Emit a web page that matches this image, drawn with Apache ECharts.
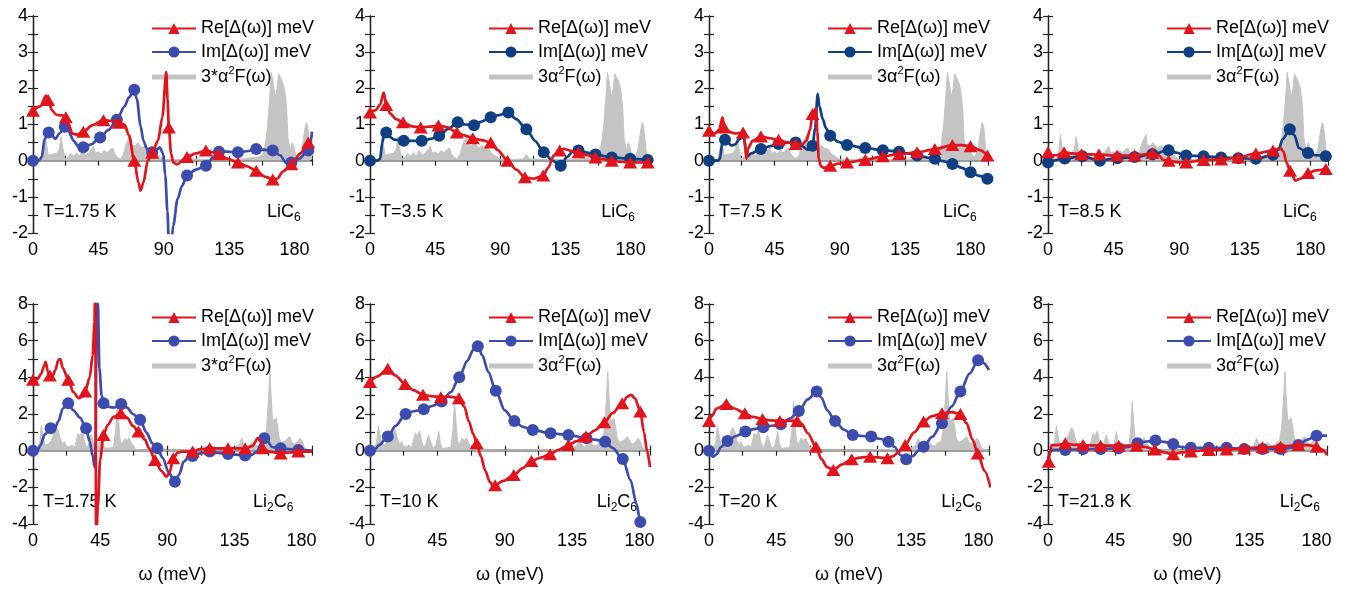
<!DOCTYPE html>
<html>
<head>
<meta charset="utf-8">
<script src="https://cdn.jsdelivr.net/npm/echarts@6/dist/echarts.min.js"></script>
<style>
  html, body { margin: 0; padding: 0; background: #fff; }
  #chart { width: 1353px; height: 589px; }
</style>
</head>
<body>
<div id="chart"></div>
<script>
// points are [omega, value, marker?]
const re1 = [[0,1.38,1],[5,1.5,0],[9,1.8,0],[10.4,1.68,1],[13,1.4,0],[16,1.27,0],[20,1.25,0],[22.6,1.2,1],[25,0.95,0],[27,0.75,0],[30,0.72,0],[34.6,0.8,1],[41,0.98,0],[48.5,1.12,1],[54,1.1,0],[58.9,1.05,1],[63,1.0,0],[66,0.7,0],[69.7,0,1],[72.5,-0.6,0],[74,-0.83,0],[76,-0.6,0],[79,0,0],[82,0.22,1],[86,0.55,0],[89,1.2,0],[91.7,2.45,0],[92.6,1.7,0],[93.5,0.92,1],[95,0.2,0],[96.5,-0.05,0],[99,-0.1,0],[106,0.1,1],[112,0.2,0],[119,0.28,1],[128,0.18,1],[134,0.05,0],[141,-0.05,1],[147,-0.15,0],[153.6,-0.28,1],[160,-0.45,0],[165,-0.52,1],[168,-0.5,0],[172,-0.3,0],[177.8,-0.1,1],[184,0.2,0],[189.4,0.5,1],[192,0.55,0]];
const im1 = [[0,0,1],[4,0,0],[6,0.1,0],[8,0.6,0],[10.8,0.78,1],[13,0.7,0],[15.5,0.6,0],[18,0.75,0],[21.9,0.94,1],[24,0.85,0],[28,0.55,0],[31,0.4,0],[34.6,0.37,1],[40,0.45,0],[46.2,0.64,1],[52,0.85,0],[57.7,1.13,1],[63,1.5,0],[66,1.75,0],[69.7,1.96,1],[71.5,1.7,0],[74,0.97,0],[76,0.55,0],[78.5,0.32,0],[82,0.23,1],[85,0.3,0],[87.2,0.37,0],[89.5,0.2,0],[91,-0.4,0],[92.5,-1.4,0],[93.5,-2.3,0],[95,-2.4,0],[96.5,-1.8,0],[99.5,-1.06,0],[102.5,-0.7,0],[106,-0.41,1],[112,-0.25,0],[119,-0.14,1],[124,0.1,0],[128,0.25,1],[134,0.25,0],[141,0.23,1],[147,0.26,0],[153.6,0.32,1],[159,0.3,0],[165,0.28,1],[170,0.15,0],[174,-0.05,0],[177.8,-0.05,1],[183,0.05,0],[189.4,0.28,1],[191,0.5,0],[192,0.8,0]];
const re2 = [[0,1.33,1],[4,1.4,0],[7,1.55,0],[9.5,1.88,0],[11.2,1.54,1],[14,1.3,0],[18,1.15,0],[22.8,1.06,1],[29,0.95,0],[35,0.92,1],[41,0.94,0],[47.3,0.97,1],[53,0.93,0],[60,0.78,1],[65,0.7,0],[71,0.62,1],[77,0.57,0],[83.4,0.5,1],[88,0.3,0],[95,0,1],[101,-0.25,0],[107,-0.46,1],[113,-0.5,0],[119.6,-0.41,1],[123,-0.2,0],[127,0.15,0],[131,0.28,1],[134,0.33,0],[138,0.28,0],[144,0.23,1],[150,0.15,0],[155.7,0.09,1],[161,0.04,0],[167,0,1],[173,-0.03,0],[179.7,-0.05,1],[186,-0.05,0],[191.8,-0.05,1]];
const im2 = [[0,0,1],[5,0,0],[7,0.05,0],[8.5,0.5,0],[10,0.78,0],[11.2,0.78,1],[14,0.65,0],[17,0.58,0],[23.3,0.55,1],[29,0.55,0],[35.7,0.55,1],[42,0.6,0],[47.8,0.69,1],[54,0.88,0],[60.6,1.06,1],[66,1.0,0],[71.8,0.98,1],[77,1.08,0],[83.4,1.2,1],[89,1.26,0],[95.6,1.33,1],[101,1.15,0],[108,0.87,1],[114,0.55,0],[120,0.23,1],[126,0.0,0],[131.7,-0.14,1],[136,0.1,0],[140,0.25,0],[144,0.28,1],[150,0.22,0],[155.7,0.17,1],[167,0.09,1],[179.7,0.05,1],[191.8,0.02,1]];
const re3 = [[0,0.83,1],[4,0.75,0],[7,0.85,0],[9.3,1.2,0],[10.5,0.92,1],[14,0.8,0],[18,0.75,0],[23.4,0.78,1],[24.5,0.6,0],[25.7,0.05,0],[27,0.35,0],[30,0.55,0],[35.7,0.67,1],[42,0.62,0],[47.9,0.58,1],[54,0.5,0],[59.6,0.46,1],[64,0.45,0],[67,0.55,0],[69.5,0.85,0],[71.3,1.29,1],[73.6,1.45,0],[74.6,0.8,0],[75.5,0.05,0],[77,-0.15,0],[79,-0.2,0],[83.4,-0.14,1],[89,-0.08,0],[95,-0.05,1],[107.5,0.02,1],[119.6,0.12,1],[130.8,0.18,1],[143.2,0.23,1],[155.4,0.32,1],[167.5,0.43,1],[174,0.43,0],[180,0.4,1],[186,0.3,0],[191.6,0.14,1]];
const im3 = [[0,0,1],[6,0,0],[7.5,0.05,0],[9,0.45,0],[11,0.58,1],[13,0.5,0],[15.5,0.42,0],[18,0.45,0],[21,0.6,0],[24,0.65,0],[25.2,0.3,0],[26,0.1,0],[29,0.2,0],[35.7,0.32,1],[42,0.4,0],[47.9,0.46,1],[54,0.5,0],[59.6,0.5,1],[64,0.4,0],[68,0.3,0],[71.3,0.41,1],[73,0.9,0],[74.8,1.85,0],[76,1.5,0],[78.3,1.15,0],[80.5,0.9,0],[83.4,0.69,1],[89,0.52,0],[95,0.43,1],[107.5,0.35,1],[119.6,0.29,1],[130.8,0.25,1],[137,0.2,0],[143.2,0.14,1],[155.4,0.05,1],[161,-0.01,0],[167.5,-0.09,1],[174,-0.2,0],[180,-0.32,1],[186,-0.42,0],[191.6,-0.5,1]];
const re4 = [[0,0.23,1],[2,0.15,0],[6,0.15,0],[11,0.23,1],[17,0.2,0],[23,0.18,1],[35,0.17,1],[47.3,0.14,1],[59.4,0.14,1],[65,0.17,0],[71.6,0.21,1],[76,0.15,0],[79,0.02,0],[82.7,0,1],[88,-0.04,0],[94.7,-0.05,1],[106.7,0.02,1],[118.7,0.03,1],[130.5,0.09,1],[142.5,0.2,1],[154.3,0.28,1],[159.4,0.35,0],[161.5,0.25,0],[163.5,-0.05,0],[166,-0.28,1],[169.7,-0.55,0],[173,-0.5,0],[178.3,-0.34,1],[184,-0.27,0],[190.5,-0.23,1],[192,-0.23,0]];
const im4 = [[0,-0.05,1],[11.5,0.06,1],[23.5,0.12,1],[35.6,0.0,1],[47.6,0.07,1],[59.4,0.1,1],[71.6,0.18,1],[82.7,0.29,1],[88,0.22,0],[94.7,0.14,1],[106.7,0.12,1],[118.7,0.09,1],[130.5,0.07,1],[142.5,0.05,1],[154.3,0.16,1],[158,0.3,0],[161,0.6,0],[165.8,0.87,1],[169,0.7,0],[172,0.35,0],[178.3,0.21,1],[184,0.15,0],[190.5,0.12,1]];
const re5 = [[0,3.87,1],[3,3.9,0],[5.5,4.2,0],[7.3,4.6,0],[8.5,4.85,0],[10,4.3,0],[11.3,4.1,1],[13,4.05,0],[15,4.4,0],[17,4.95,0],[18.3,5.0,0],[20,4.5,0],[23.6,3.87,1],[27,3.2,0],[30.7,2.86,0],[33,2.95,0],[35,3.23,1],[38,4.0,0],[40,5.2,0],[41.2,7.0,0],[41.8,9.5,0],[42.3,-5,0],[43.5,-3,0],[45,-0.5,0],[47.3,0.86,1],[50,1.4,0],[54,1.85,0],[58.9,2.04,1],[63,1.8,0],[67,1.35,0],[70.7,1.04,1],[75,0.6,0],[78,0.1,0],[81.8,-0.51,1],[86,-1.1,0],[89.6,-1.42,0],[91.5,-1.2,0],[94,-0.42,1],[97,-0.1,0],[100,-0.05,0],[107,-0.05,1],[112,0.08,0],[118.4,0.13,1],[130.7,0.13,1],[142.2,0.13,1],[147,0.25,0],[150.7,0.68,0],[152.5,0.5,0],[154,0.13,1],[158,-0.05,0],[166,-0.15,1],[172,-0.1,0],[177.8,-0.05,1],[187,-0.05,0]];
const im5 = [[0,0,1],[3,0,0],[5,0.3,0],[8,0.9,0],[11.8,1.22,1],[14,1.1,0],[17,1.6,0],[20,2.3,0],[23.6,2.59,1],[27,2.2,0],[31.5,1.8,0],[35.6,1.22,1],[38,0.5,0],[40,-0.3,0],[41.3,-0.88,0],[42,0.5,0],[42.6,9.5,0],[43.5,8,0],[44.5,4.5,0],[46,3.0,0],[47.3,2.59,1],[50,2.4,0],[54,2.35,0],[59.1,2.54,1],[63,2.35,0],[67,2.0,0],[71.8,1.68,1],[76,1.0,0],[80,0.4,0],[83.3,0.13,1],[87,-0.4,0],[91,-1.2,0],[95.1,-1.7,1],[98,-1.3,0],[101,-0.6,0],[105,-0.3,0],[107,-0.29,1],[112,-0.15,0],[118.4,-0.05,1],[124,-0.12,0],[130.7,-0.18,1],[136,-0.22,0],[142.2,-0.27,1],[146,-0.25,0],[150,-0.05,0],[153,0.4,0],[155,0.68,1],[157.5,0.5,0],[160,0.2,0],[166,0.13,1],[172,0.08,0],[177.8,0.04,1],[187,0,0]];
const re6 = [[0,3.74,1],[5,4.05,0],[11.9,4.47,1],[17,4.1,0],[23.5,3.63,1],[29,3.3,0],[35.4,3.05,1],[41,2.97,0],[47.3,2.92,1],[53,2.95,0],[59.4,2.86,1],[63,2.4,0],[66,1.6,0],[69,0.9,0],[71.3,0.4,1],[74,-0.3,0],[77,-1.1,0],[80,-1.7,0],[82.5,-1.97,0],[83.6,-1.88,1],[89,-1.65,0],[96,-1.33,1],[102,-0.95,0],[107.8,-0.57,1],[114,-0.38,0],[120.2,-0.2,1],[126,0.05,0],[132.5,0.31,1],[138,0.52,0],[144.2,0.77,1],[150,1.1,0],[156.5,1.55,1],[162,2.05,0],[168.4,2.59,1],[172,2.95,0],[174.4,3.05,0],[177,2.85,0],[180.5,2.14,1],[183,1.0,0],[185,0.0,0],[187,-0.9,0]];
const im6 = [[0,0,1],[3,0.05,0],[6,0.3,0],[11.9,0.77,1],[17,1.35,0],[23.8,2.0,1],[29,2.15,0],[35.9,2.26,1],[42,2.45,0],[47.8,2.68,1],[54,3.2,0],[59.6,4.0,1],[65,4.9,0],[69,5.5,0],[72,5.69,1],[75,5.2,0],[79,4.3,0],[84,3.27,1],[90,2.2,0],[96.4,1.62,1],[102,1.3,0],[108.7,1.13,1],[120.6,0.95,1],[132.5,0.86,1],[144.6,0.68,1],[150,0.6,0],[157,0.49,1],[162,0.15,0],[168.8,-0.46,1],[174,-1.6,0],[178,-2.9,0],[180.5,-3.89,1],[182,-4.6,0]];
const re7 = [[0,1.62,1],[2,1.9,0],[5,2.3,0],[11.6,2.54,1],[17,2.3,0],[23.9,2.04,1],[29,1.85,0],[35.7,1.73,1],[41,1.65,0],[47.3,1.62,1],[53,1.62,0],[58.9,1.62,1],[62,1.45,0],[66,0.95,0],[71.4,0.22,1],[75,-0.45,0],[79,-0.9,0],[83,-1.06,1],[89,-0.75,0],[95.3,-0.47,1],[101,-0.38,0],[107.6,-0.33,1],[113,-0.37,0],[119.2,-0.42,1],[123,-0.3,0],[127,-0.05,0],[131,0.31,1],[137,1.0,0],[143.3,1.59,1],[149,1.88,0],[155.6,2.04,1],[162,2.1,0],[167.9,2.0,1],[172,1.5,0],[176,0.6,0],[179.5,-0.15,1],[184,-1.1,0],[188,-2.0,0]];
const im7 = [[0,0,1],[2.7,-0.33,0],[5,-0.2,0],[8,0.2,0],[12.3,0.53,1],[18,0.8,0],[24.3,1.04,1],[30,1.18,0],[36.2,1.28,1],[42,1.36,0],[48,1.44,1],[54,1.75,0],[60,2.17,1],[66,2.8,0],[71.9,3.23,1],[75,2.9,0],[79,2.2,0],[84.2,1.62,1],[90,1.15,0],[96,0.86,1],[102,0.8,0],[108.3,0.77,1],[114,0.65,0],[119.9,0.49,1],[124,0.2,0],[128,-0.25,0],[131.7,-0.47,1],[136,-0.3,0],[140,0.0,0],[143.3,0.22,1],[149,0.75,0],[155.6,1.5,1],[162,2.4,0],[167.9,3.23,1],[174,4.2,0],[179.7,4.93,1],[183,4.8,0],[187,4.4,0]];
const re8 = [[0.5,-0.6,1],[1.5,0.0,0],[2.5,0.3,0],[6,0.3,0],[11.6,0.4,1],[17,0.32,0],[23.5,0.31,1],[35.3,0.27,1],[47.4,0.27,1],[59.3,0.27,1],[65,0.2,0],[71.6,0.07,1],[78,-0.1,0],[83.9,-0.2,1],[89,-0.1,0],[95.7,-0.05,1],[107.8,0.04,1],[119.7,0.07,1],[131.5,0.13,1],[143.8,0.18,1],[155.9,0.22,1],[167.8,0.31,1],[174,0.3,0],[180,0.22,1],[184,0.05,0],[187,-0.24,0]];
const im8 = [[0,-0.42,0],[1.5,-0.1,0],[2.5,0.05,0],[11.6,0.04,1],[23.5,0.09,1],[35.3,0.09,1],[47.4,0.13,1],[54,0.2,0],[60,0.4,1],[66,0.5,0],[72,0.55,1],[78,0.48,0],[83.9,0.36,1],[89,0.2,0],[95.7,0.16,1],[107.8,0.16,1],[119.7,0.16,1],[131.5,0.09,1],[143.8,0.09,1],[155.9,0.09,1],[162,0.15,0],[167.8,0.31,1],[174,0.6,0],[180,0.82,1],[187,0.82,0]];

// 3*alpha^2F(omega), LiC6 (top row) and Li2C6 (bottom row)
const a2fLiC6 = [[0,0],[6,0],[7.5,0.3],[8.5,0.72],[9.5,0.4],[10.5,0.15],[13,0.18],[16,0.2],[18,0.3],[19.3,0.66],[20.5,0.35],[22,0.05],[24,0.08],[26,0.2],[28,0.12],[30,0.22],[32,0.12],[34,0.28],[36,0.15],[38,0.2],[40,0.3],[41.7,0.4],[43,0.2],[45,0.25],[47,0.18],[49,0.28],[51,0.22],[53,0.3],[55,0.35],[56,0.2],[58,0.1],[60,0.05],[62,0.15],[64,0.45],[66,0.62],[67,0.72],[68,0.45],[70,0.4],[72,0.5],[73,0.45],[75,0.35],[77.5,0.42],[79,0.35],[82,0.32],[84,0.2],[87,0.12],[90,0.03],[100,0.03],[106,0.05],[108,0.17],[110,0.05],[120,0.03],[135,0.03],[145,0.05],[150,0.08],[155,0.1],[158,0.15],[160,0.5],[161.5,1.0],[163,1.8],[164,2.44],[165.5,2.1],[166.7,1.75],[168,2.0],[169,2.4],[170,2.44],[171.5,2.2],[173,2.0],[174.5,1.5],[175.5,0.6],[177,0.3],[178.5,0.5],[179.5,0.45],[181,0.15],[183,0.1],[185,0.3],[187,0.85],[188,1.05],[189,0.95],[190.5,0.3],[192,0.05]];
const a2fLi2C6 = [[0,0],[3,0],[4.5,0.5],[5.6,1.37],[6.8,0.8],[8,0.3],[10,0.35],[12,0.5],[14,0.9],[15.7,1.26],[17,1.1],[18.5,0.6],[20,0.35],[21,0.5],[22.5,0.25],[24,0.2],[26,0.3],[28,0.2],[30.2,0.95],[31.5,0.8],[33.1,1.08],[34.5,0.5],[36,0.15],[37.5,0.4],[39,0.86],[40.5,0.5],[42,0.1],[44,0.3],[45.9,1.04],[47,0.4],[48.5,0.1],[50,0.15],[52,0.15],[54,0.2],[55.5,1.2],[56.4,2.68],[57.5,1.5],[58.5,0.5],[60,0.4],[61.5,0.68],[63,0.55],[64.5,0.7],[66,0.4],[67.5,0.2],[69,0.05],[72,0.03],[90,0.02],[100,0.04],[110,0.05],[115,0.08],[120,0.05],[130,0.08],[135,0.15],[138,0.3],[139.8,0.68],[141,0.4],[143,0.2],[145,0.3],[147,0.45],[149,0.3],[151,0.25],[153,0.45],[155,0.5],[156.6,1.22],[158,3.0],[158.8,4.32],[159.6,3.0],[160.6,1.6],[161.8,1.5],[162.9,1.77],[164,1.3],[165,0.7],[166.5,0.45],[168,0.5],[170,0.6],[172,0.77],[173.5,0.5],[175,0.35],[177,0.45],[179,0.68],[180.5,0.5],[182,0.15],[184,0.05],[187,0]];

const temps = ['T=1.75 K', 'T=3.5 K', 'T=7.5 K', 'T=8.5 K', 'T=1.75 K', 'T=10 K', 'T=20 K', 'T=21.8 K'];
const compounds = ['{a|LiC}{b|6}', '{a|Li}{b|2}{a|C}{b|6}'];
const grayNames = ['3*α{sup|2}F(ω)', '3α{sup|2}F(ω)', '3α{sup|2}F(ω)', '3α{sup|2}F(ω)',
                   '3*α{sup|2}F(ω)', '3α{sup|2}F(ω)', '3α{sup|2}F(ω)', '3α{sup|2}F(ω)'];
const xMaxRow = [192, 187];
const yRangeRow = [[-2, 4, 0.5, 1], [-4, 8, 1, 2]];

const RED = '#e3131b';
const BLUE = '#3b4cae';
const NAVY = '#0d3f82';
const GRAY = '#c4c4c4';
const imColors = [BLUE, NAVY, NAVY, NAVY, BLUE, BLUE, BLUE, BLUE];
const FONT = '"Liberation Sans", Arial, sans-serif';

// layout
const lefts = [33, 370, 709, 1048];
const widths = [[279, 278, 279, 280], [279, 280, 280, 279]];
const rowTop = [16, 304];
const rowHeight = [217, 220];
const labelRight = [300.7, 635, 976.7, 1316.7, 293.3, 637, 981.7, 1320];
const labelY = [212, 502];

const panels = [
  [re1, im1], [re2, im2], [re3, im3], [re4, im4],
  [re5, im5], [re6, im6], [re7, im7], [re8, im8]
];

const pts = (arr, sym) => arr.map(p => ({ value: [p[0], p[1]], symbol: p[2] ? sym : 'none' }));

const grid = [], xAxis = [], yAxis = [], series = [], legend = [], graphic = [];
const axisLine = { show: true, lineStyle: { color: '#222', width: 1.3 } };
const axisTick = { show: true, inside: true, length: 5, lineStyle: { color: '#222', width: 1.2 } };

panels.forEach((pd, i) => {
  const row = i < 4 ? 0 : 1;
  const col = i % 4;
  const left = lefts[col];
  const width = widths[row][col];
  const yr = yRangeRow[row];
  grid.push({ left: left, top: rowTop[row], width: width, height: rowHeight[row] });

  const xBase = { gridIndex: i, type: 'value', min: 0, max: xMaxRow[row], interval: 22.5,
    axisLine: axisLine, axisTick: axisTick, splitLine: { show: false } };
  xAxis.push(Object.assign({}, xBase, { position: 'bottom',
    axisLabel: { color: '#000', fontSize: 18, fontFamily: FONT, margin: 8,
      formatter: v => (v % 45 === 0 ? String(v) : '') } }));
  xAxis.push(Object.assign({}, xBase, { position: 'top', axisLabel: { show: false } }));

  const yBase = { gridIndex: i, type: 'value', min: yr[0], max: yr[1], interval: yr[2],
    axisLine: axisLine, axisTick: axisTick, splitLine: { show: false } };
  yAxis.push(Object.assign({}, yBase, { position: 'left',
    axisLabel: { color: '#000', fontSize: 18, fontFamily: FONT, margin: 5,
      formatter: v => (v % yr[3] === 0 ? String(v) : '') } }));
  yAxis.push(Object.assign({}, yBase, { position: 'right', axisLabel: { show: false } }));

  const gray = row === 0 ? a2fLiC6 : a2fLi2C6;
  series.push({ type: 'line', name: 'f' + i, xAxisIndex: 2 * i, yAxisIndex: 2 * i,
    data: gray.map(p => [p[0], p[1]]), symbol: 'none', silent: true,
    lineStyle: { color: GRAY, width: 1 }, itemStyle: { color: GRAY },
    areaStyle: { color: GRAY, opacity: 1 }, z: 1 });
  series.push({ type: 'line', name: 'im' + i, xAxisIndex: 2 * i, yAxisIndex: 2 * i,
    data: pts(pd[1], 'circle'), symbol: 'circle', symbolSize: 12, showSymbol: true,
    smooth: 0.3, smoothMonotone: 'x', silent: true,
    lineStyle: { color: imColors[i], width: 2.7 }, itemStyle: { color: imColors[i] }, z: 3 });
  series.push({ type: 'line', name: 're' + i, xAxisIndex: 2 * i, yAxisIndex: 2 * i,
    data: pts(pd[0], 'triangle'), symbol: 'triangle', symbolSize: [14, 12], showSymbol: true,
    smooth: 0.3, smoothMonotone: 'x', silent: true,
    lineStyle: { color: RED, width: 2.7 }, itemStyle: { color: RED }, z: 4 });

  const names = { ['re' + i]: 'Re[Δ(ω)] meV', ['im' + i]: 'Im[Δ(ω)] meV', ['f' + i]: grayNames[i] };
  legend.push({
    orient: 'vertical', left: left + 118, top: row === 0 ? 18.5 : 307.5, padding: 0,
    itemWidth: 44, itemHeight: 14, itemGap: 3.5, selectedMode: false,
    data: [{ name: 're' + i }, { name: 'im' + i }, { name: 'f' + i, icon: 'path://M0,0H44V5H0Z' }],
    formatter: name => names[name],
    textStyle: { color: '#000', fontSize: 18, fontFamily: FONT, lineHeight: 20,
      rich: { sup: { fontSize: 11, fontFamily: FONT, color: '#000', padding: [0, 0, 12, 0] } } }
  });

  graphic.push({ type: 'text', x: left + 10, y: labelY[row], silent: true,
    style: { text: temps[i], fontSize: 18, fontFamily: FONT, fill: '#000',
      align: 'left', verticalAlign: 'middle' } });
  graphic.push({ type: 'text', x: labelRight[i], y: labelY[row], silent: true,
    style: { text: compounds[row], align: 'right', verticalAlign: 'middle', fill: '#000',
      rich: { a: { fontSize: 18, fontFamily: FONT, fill: '#000' },
              b: { fontSize: 12, fontFamily: FONT, fill: '#000', padding: [12, 0, 0, 0] } } } });
  if (row === 1) {
    graphic.push({ type: 'text', x: left + width / 2, y: 575, silent: true,
      style: { text: 'ω (meV)', fontSize: 18, fontFamily: FONT, fill: '#000',
        align: 'center', verticalAlign: 'middle' } });
  }
});

const chart = echarts.init(document.getElementById('chart'));
chart.setOption({
  animation: false,
  backgroundColor: '#fff',
  grid: grid,
  xAxis: xAxis,
  yAxis: yAxis,
  legend: legend,
  series: series,
  graphic: graphic
});
</script>
</body>
</html>
